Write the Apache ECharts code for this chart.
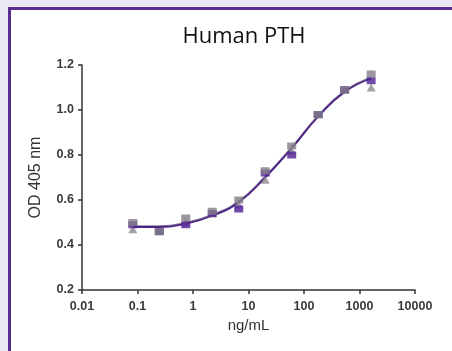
<!DOCTYPE html>
<html><head><meta charset="utf-8">
<script src="https://cdn.jsdelivr.net/npm/echarts@6/dist/echarts.min.js"></script>
<style>html,body{margin:0;padding:0;background:#ece9f4;}#c{width:452px;height:351px;}</style>
</head><body><div id="c"></div>
<script>
const conc = [0.0823, 0.247, 0.741, 2.22, 6.67, 20, 60, 180, 540, 1620];
const repGreySq = [0.50, 0.46, 0.52, 0.55, 0.60, 0.73, 0.84, 0.98, 1.09, 1.16];
const repPurple = [0.49, 0.46, 0.49, 0.54, 0.56, 0.72, 0.80, 0.98, 1.09, 1.13];
const repGreyTri = [0.47, 0.46, 0.50, 0.54, 0.58, 0.69, 0.82, 0.98, 1.09, 1.10];
const fitPurple = [0.48, 0.48, 0.495, 0.53, 0.59, 0.70, 0.83, 0.97, 1.08, 1.14];
const fitGrey = [0.485, 0.485, 0.50, 0.535, 0.595, 0.705, 0.835, 0.975, 1.085, 1.145];
const xTicks = ['0.01','0.1','1','10','100','1000','10000'];
const yTicks = ['0.2','0.4','0.6','0.8','1.0','1.2'];

const pairs = ys => conc.map((x,i)=>[x, ys[i]]);
const chart = echarts.init(document.getElementById('c'));
const axisFont = {fontFamily:'Arial', fontWeight:'bold', fontSize:12.5, color:'#3a3a3a'};
chart.setOption({
  backgroundColor:'#ece9f4',
  animation:false,
  graphic:[{type:'rect', shape:{x:9.5,y:8.5,width:460,height:360}, style:{fill:'#ffffff', stroke:'#5a2e91', lineWidth:3}, z:-10}],
  title:{text:'Human PTH', left:239, top:21, textAlign:'center',
    textStyle:{fontFamily:'Open Sans', fontWeight:'normal', fontSize:22, color:'#111'}},
  grid:{left:82, right:37, top:65, bottom:61},
  xAxis:{type:'log', logBase:10, min:0.01, max:10000,
    name:'ng/mL', nameLocation:'middle', nameGap:24,
    nameTextStyle:{fontFamily:'Arial', fontSize:15, color:'#333'},
    axisLine:{lineStyle:{color:'#333', width:1.5}},
    axisTick:{show:true, length:4, lineStyle:{color:'#333', width:1.5}},
    minorTick:{show:false}, splitLine:{show:false},
    axisLabel:Object.assign({margin:10, formatter:(v)=>{const i=Math.round(Math.log10(v))+2; return xTicks[i]||'';}}, axisFont)},
  yAxis:{type:'value', min:0.2, max:1.2, interval:0.2,
    name:'OD 405 nm', nameLocation:'middle', nameGap:38,
    nameTextStyle:{fontFamily:'Arial', fontSize:16, color:'#333'},
    axisLine:{show:true, lineStyle:{color:'#333', width:1.5}},
    axisTick:{show:true, length:4, lineStyle:{color:'#333', width:1.5}},
    splitLine:{show:false},
    axisLabel:Object.assign({margin:8, formatter:(v)=>{const i=Math.round((v-0.2)/0.2); return yTicks[i]||'';}}, axisFont)},
  series:[
    {type:'line', data:pairs(fitGrey), smooth:0.5, symbol:'none', lineStyle:{color:'#8a7f96', width:1.5}, z:2},
    {type:'line', data:pairs(fitPurple), smooth:0.5, symbol:'none', lineStyle:{color:'#4b2485', width:1.8}, z:3},
    {type:'scatter', data:pairs(repGreyTri), symbol:'triangle', symbolSize:[9,8], itemStyle:{color:'#8c8a90'}, z:4},
    {type:'scatter', data:pairs(repPurple), symbol:'rect', symbolSize:[9,7], itemStyle:{color:'#4f1f96'}, z:5},
    {type:'scatter', data:pairs(repGreySq), symbol:'rect', symbolSize:[9,7], itemStyle:{color:'#817d86'}, z:6}
  ]
});
</script></body></html>
